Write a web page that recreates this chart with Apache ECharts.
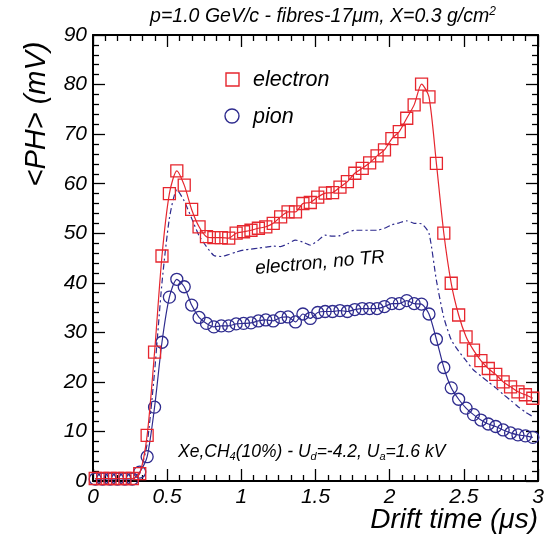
<!DOCTYPE html>
<html>
<head>
<meta charset="utf-8">
<script src="https://cdn.jsdelivr.net/npm/echarts@6/dist/echarts.min.js"></script>
<style>
html,body{margin:0;padding:0;background:#fff;}
#chart{width:551px;height:553px;}
</style>
</head>
<body>
<div id="chart"></div>
<script>
// Drift time bin centres (µs)
const times = [0.015,0.065,0.115,0.165,0.215,0.265,0.315,0.365,0.415,0.465,
  0.515,0.565,0.615,0.665,0.715,0.765,0.815,0.865,0.915,0.965,
  1.015,1.065,1.115,1.165,1.215,1.265,1.315,1.365,1.415,1.465,
  1.515,1.565,1.615,1.665,1.715,1.765,1.815,1.865,1.915,1.965,
  2.015,2.065,2.115,2.165,2.215,2.265,2.315,2.365,2.415,2.465,
  2.515,2.565,2.615,2.665,2.715,2.765,2.815,2.865,2.915,2.965];

// <PH> (mV)
const electron = [0.5,0.5,0.5,0.5,0.5,0.5,1.5,9.2,26.0,45.4,
  58.0,62.6,59.7,54.8,51.3,49.3,49.1,49.1,49.0,50.0,
  50.3,50.6,51.0,51.3,52.0,53.3,54.3,54.3,56.0,56.2,
  57.3,58.1,58.2,59.3,60.4,62.1,63.1,64.2,65.6,66.8,
  69.1,70.5,73.2,75.9,80.1,77.5,64.1,50.0,39.9,33.5,
  29.1,26.4,24.3,22.7,21.5,20.0,19.0,18.0,17.4,16.7];

const pion = [0.4,0.4,0.4,0.4,0.4,0.4,1.8,4.9,14.9,28.0,
  37.1,40.7,39.2,35.5,33.0,31.8,31.1,31.3,31.3,31.7,
  31.8,31.9,32.3,32.5,32.3,33.0,33.1,32.1,33.7,32.8,
  34.0,34.2,34.2,34.4,34.2,34.6,34.8,34.8,34.8,35.2,
  35.8,35.8,36.4,35.8,35.7,33.7,28.6,22.9,18.8,16.5,
  14.7,13.4,12.3,11.5,11.0,10.3,9.7,9.3,9.1,8.8];

const electronNoTR = [0.4,0.4,0.4,0.4,0.4,0.4,1.6,7.5,22.0,40.0,
  53.0,58.8,56.5,53.0,49.5,47.3,45.5,45.3,45.7,46.2,
  46.6,46.8,47.0,47.2,47.4,47.3,47.9,48.6,48.2,47.6,
  48.5,49.6,49.4,49.5,50.2,50.6,50.6,50.6,50.6,51.0,
  51.7,52.1,52.5,52.0,51.9,50.0,40.5,33.0,28.5,26.2,
  24.3,22.4,21.2,20.0,18.8,17.5,16.3,15.0,13.9,13.0];

const xTickLabels = ['0','0.5','1','1.5','2','2.5','3'];

const RED = '#e6262e';
const BLUE = '#2e2b8e';
const FONT = '"Liberation Sans", Arial, Helvetica, sans-serif';

function pairs(ys){ return times.map((t,i)=>[t, ys[i]]); }

const chart = echarts.init(document.getElementById('chart'), null, {renderer:'canvas'});

const baseAxis = {
  axisLine:{show:true, onZero:false, lineStyle:{color:'#000', width:2}},
  axisTick:{show:true, inside:true, length:12, lineStyle:{color:'#000', width:1.3}},
  minorTick:{show:true, length:6, lineStyle:{color:'#000', width:1.3}},
  splitLine:{show:false},
  minorSplitLine:{show:false}
};

const option = {
  animation:false,
  backgroundColor:'#fff',
  grid:{left:93, right:13, top:35, bottom:72, containLabel:false},
  xAxis:[
    Object.assign({}, baseAxis, {
      type:'value', min:0, max:3, interval:0.5, position:'bottom',
      minorTick:Object.assign({}, baseAxis.minorTick, {splitNumber:6}),
      axisLabel:{show:true, margin:6, color:'#000', fontSize:21, fontStyle:'italic', fontFamily:FONT,
        formatter:(v)=>{ const i=Math.round(v/0.5); return xTickLabels[i]!==undefined?xTickLabels[i]:''; }}
    }),
    Object.assign({}, baseAxis, {
      type:'value', min:0, max:3, interval:0.5, position:'top',
      minorTick:Object.assign({}, baseAxis.minorTick, {splitNumber:6}),
      axisLabel:{show:false}
    })
  ],
  yAxis:[
    Object.assign({}, baseAxis, {
      type:'value', min:0, max:90, interval:10, position:'left',
      minorTick:Object.assign({}, baseAxis.minorTick, {splitNumber:5}),
      axisLabel:{show:true, margin:6, color:'#000', fontSize:21, fontStyle:'italic', fontFamily:FONT}
    }),
    Object.assign({}, baseAxis, {
      type:'value', min:0, max:90, interval:10, position:'right',
      minorTick:Object.assign({}, baseAxis.minorTick, {splitNumber:5}),
      axisLabel:{show:false}
    })
  ],
  series:[
    {
      name:'electron, no TR', type:'line', data:pairs(electronNoTR),
      showSymbol:false, symbol:'none', smooth:0.2,
      lineStyle:{color:BLUE, width:1.2, type:[6,3,2,3]}, z:2
    },
    {
      name:'pion', type:'line', data:pairs(pion),
      symbol:'circle', symbolSize:12, smooth:0.25,
      lineStyle:{color:BLUE, width:1.2},
      itemStyle:{color:'rgba(0,0,0,0)', borderColor:BLUE, borderWidth:1.3}, z:3
    },
    {
      name:'electron', type:'line', data:pairs(electron),
      symbol:'rect', symbolSize:12, smooth:0.25,
      lineStyle:{color:RED, width:1.2},
      itemStyle:{color:'rgba(0,0,0,0)', borderColor:RED, borderWidth:1.3}, z:4
    }
  ],
  graphic:[
    {type:'text', x:323, y:17, style:{
      text:'{n|p=1.0 GeV/c - fibres-17μm, X=0.3 g/cm}{s|2}',
      align:'center', verticalAlign:'middle',
      rich:{n:{fontSize:19.5, fontStyle:'italic', fontFamily:FONT, fill:'#000'},
            s:{fontSize:12, fontStyle:'italic', fontFamily:FONT, fill:'#000', padding:[0,0,11,0]}}}},
    {type:'text', x:37, y:114, rotation:Math.PI/2, style:{
      text:'<PH> (mV)', fontSize:29, fontStyle:'italic', fontFamily:FONT, fill:'#000',
      align:'center', verticalAlign:'middle'}},
    {type:'text', x:538, y:520, style:{
      text:'Drift time (μs)', fontSize:28, fontStyle:'italic', fontFamily:FONT, fill:'#000',
      align:'right', verticalAlign:'middle'}},
    {type:'rect', shape:{x:226, y:73, width:13, height:13}, style:{fill:'none', stroke:RED, lineWidth:1.4}},
    {type:'text', x:253, y:80, style:{text:'electron', fontSize:21.5, fontStyle:'italic', fontFamily:FONT, fill:'#000', align:'left', verticalAlign:'middle'}},
    {type:'circle', shape:{cx:232, cy:116, r:7}, style:{fill:'none', stroke:BLUE, lineWidth:1.4}},
    {type:'text', x:253, y:117, style:{text:'pion', fontSize:21.5, fontStyle:'italic', fontFamily:FONT, fill:'#000', align:'left', verticalAlign:'middle'}},
    {type:'text', x:320, y:263, rotation:0.09, style:{text:'electron, no TR', fontSize:19, fontStyle:'italic', fontFamily:FONT, fill:'#000', align:'center', verticalAlign:'middle'}},
    {type:'text', x:178, y:452, style:{
      text:'{n|Xe,CH}{s|4}{n|(10%) - U}{s|d}{n|=-4.2, U}{s|a}{n|=1.6 kV}',
      rich:{n:{fontSize:17.5, fontStyle:'italic', fontFamily:FONT, fill:'#000'},
            s:{fontSize:11, fontStyle:'italic', fontFamily:FONT, fill:'#000', padding:[9,0,0,0]}},
      align:'left', verticalAlign:'middle'}}
  ]
};
chart.setOption(option);
</script>
</body>
</html>
